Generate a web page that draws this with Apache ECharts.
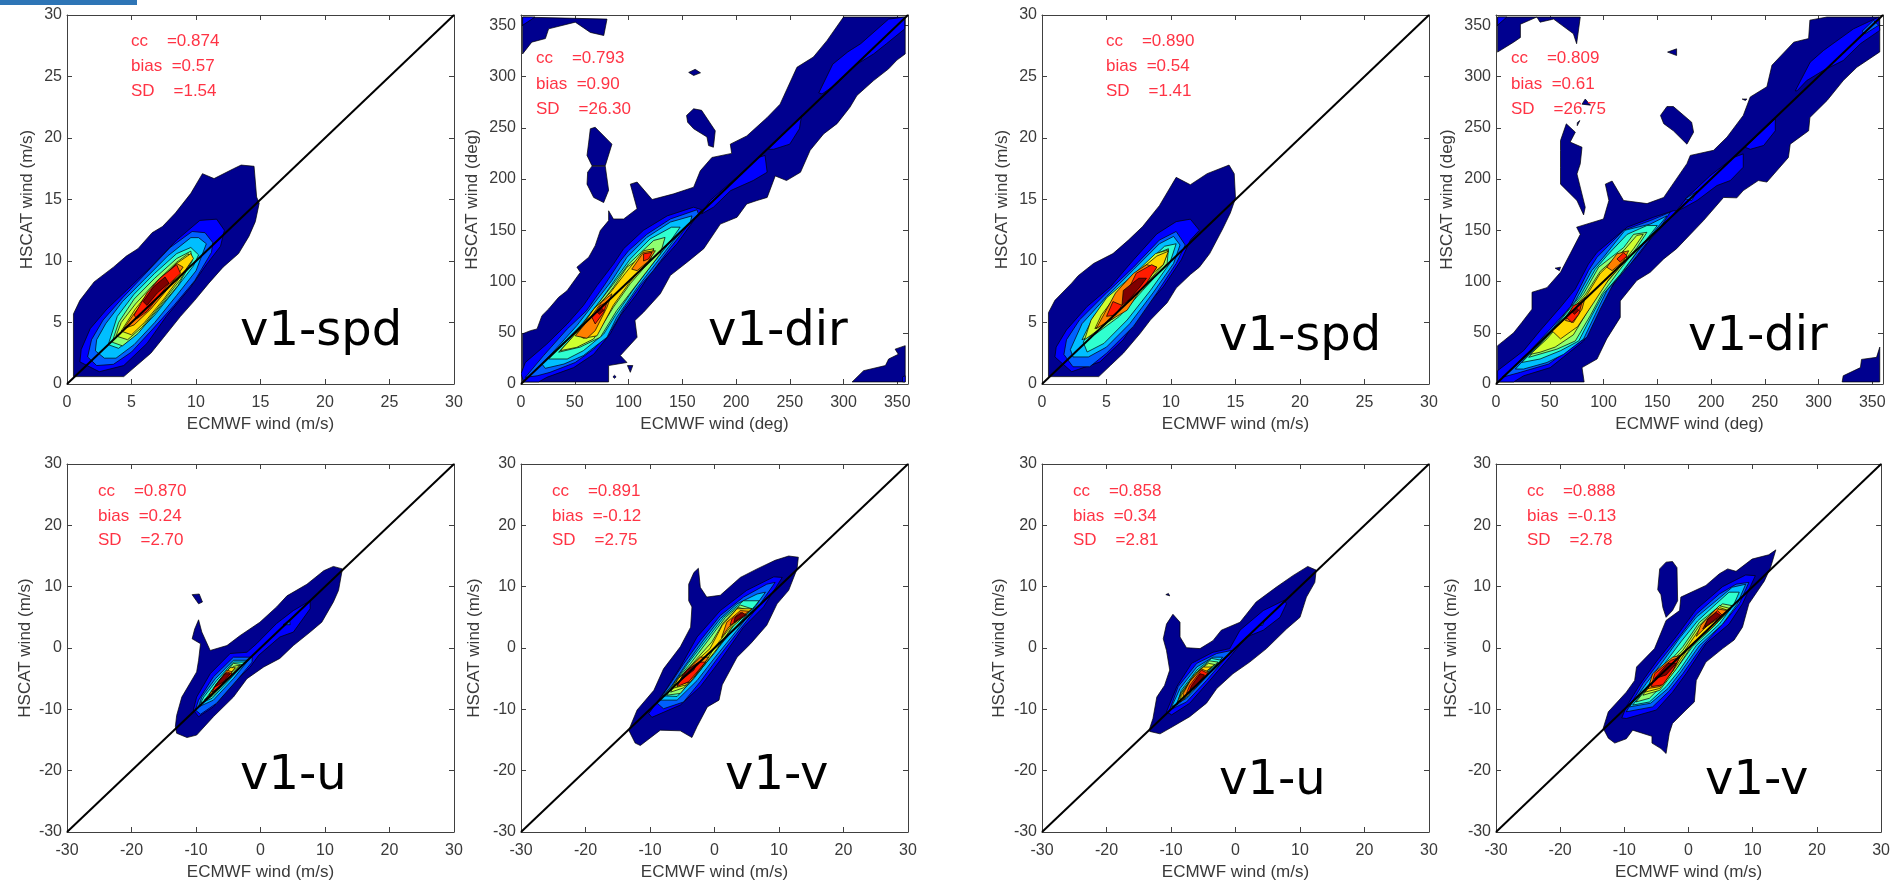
<!DOCTYPE html>
<html>
<head>
<meta charset="utf-8">
<style>html,body{margin:0;padding:0;background:#fff;overflow:hidden}#c{width:1893px;height:882px}</style>
<script src="https://cdn.jsdelivr.net/npm/echarts@6/dist/echarts.min.js"></script>
</head>
<body>
<div id="c"></div>
<script>
// Jet colour steps of the contour levels
const levelColors = ['#00008f','#0000ff','#0060ff','#00bfff','#30ffcf','#8fff70','#cfff30','#ffd800','#ff8000','#ff1c00','#800000'];

// Contours: [level, [x,y, x,y, ...]] in wind units
const spdA = [
[0,[0.5,0.6,0.5,5.7,1,6.8,2.1,8.3,3.6,9.5,4.6,10.4,5.5,11,6.6,12.3,7.4,12.8,8.4,13.9,9.6,15.5,10.5,17.1,11.4,16.7,12.9,17.5,13.5,17.8,14.5,17.7,14.7,15.2,14.9,14.7,14.6,13.2,14.1,12,13.3,10.6,12.1,9.5,11,8.2,9.9,6.8,8.8,5.5,7.5,3.8,6.5,2.5,4.4,0.6]],
[1,[2.5,1,1,1.8,1.1,2.8,1.8,4.5,3.1,6.1,4.6,7.6,6.5,9.5,8.5,11.7,10.3,13.3,11.6,13.4,12.2,12.5,11.9,11.2,10.8,9.7,9.6,7.9,7.7,5.5,6.2,3.3,4.4,1.5]],
[2,[1.6,2.2,2.3,1.5,3.6,1.6,5,2.6,6.5,4.3,8.3,6.4,9.9,8.4,11.2,10.7,11.3,11.5,10.7,12.3,9.7,12.4,8,11.1,6.2,9.1,4.3,7,2.8,5.2,1.9,3.6]],
[3,[2.2,2.7,2.9,2.1,3.8,2.1,5.2,3.2,6.8,5,8.5,7.2,10,9.2,10.8,11.4,10.2,11.9,9.6,11.9,7.8,10.4,6,8.5,4.3,6.7,3,4.9,2.3,3.6]],
[4,[3.2,3.2,4,2.9,5.2,3.9,6.8,5.6,8.4,7.7,9.8,9.6,10.2,10.5,9.6,11.1,8.5,10.6,6.8,9,5.2,7.3,3.9,5.5]],
[5,[3.5,3.4,4.3,3.1,5.5,4.1,7,6,8.6,8,9.7,10,9.6,10.8,8.5,10.2,6.8,8.6,5.2,6.9,4,5]],
[6,[3.8,3.9,4.7,3.6,5.8,4.6,7.3,6.5,8.8,8.5,9.6,10,9.4,10.6,8.5,9.9,6.8,8.2,5.3,6.5,4.2,5]],
[7,[4.2,4.3,5,4,6,5,7.5,6.9,9.2,9.3,9.8,10.2,9.6,10.6,8.5,9.8,7,8.3,5.3,6.1]],
[8,[4.4,4.5,5.2,4.8,6.5,6.1,7.7,7.6,9,9.5,8.5,9.8,7,8.2,5.2,5.7]],
[9,[5.2,5.6,5.4,5.3,6.2,5.9,7.7,7.9,8.8,9,8.5,9.7,7.2,8.6,6.2,7.4]],
[10,[5.9,6.7,6.2,6.4,7,7.4,7.9,8.2,7.6,8.7,6.7,7.9]]
];
const dirA = [
[0,[1.5,49,8.7,52,14.9,53.7,19.5,66.7,25.7,73.2,35,84.6,42.8,91,55.2,109,52,114,63,123.7,69,135,73.8,149.7,81.5,159.4,81.5,169,86,161,95.5,161,108,171,101.7,195,108,197,122,180,142,185.5,160.6,192,166.8,208,177.6,221,196,225,194.7,234,210,242,229,260,241,273,256.7,309,272,319,284.6,335,300,358,357.4,358,357.4,322,349.7,316,342,307.5,328,296,312.5,281.5,306,270,294,254,281.5,244,269,228,260,206.6,247,198.5,236.5,203,229,182,219.5,179,210,175.7,201,162.7,185.4,156,170,132,156,120,139,106,129.6,88,114,70,106,62,108,45.6,92.4,27.7,98.6,21,81.5,18,81.5,2,1.5,2]],
[0,[1.5,358,1.5,322,10,333.5,22.7,337,25.7,346.5,50.5,353,64.5,343,77,340,80,356]],
[1,[1.5,350,13,358,1.5,358]],
[0,[156,304,162,307,167,303.6,160.6,301]],
[0,[154,262,160.6,268.5,168,267,180.7,247,179,231,174.5,232.6,173,241,160.6,249,155,255.4]],
[0,[64.5,249,69,250.5,84.6,234,78.4,213,66,213,61.4,223,63,236]],
[0,[66,212.5,78.4,212.5,81.5,189,76.9,177,67.6,182,61.4,195,62,206.6]],
[0,[99,18,104,18,101.7,11.4]],
[0,[85.5,7,87,8.5,88.5,7,87,5.5]],
[0,[308,2,318.7,13,339,18,342,24.4,351,29,348,34,357.4,37.4,357.4,2]],
[1,[355,2,357.4,2,357.4,8,355,7]],
[1,[0,10,4,21,24,39,43,58.6,58,76.5,70.7,96,86,117,95.5,132,114,150,136,164,160.6,172.5,168,170,160.6,159.4,145,136.7,129.6,118.8,120,107,108,88,92.4,66.7,83,49,67.6,29,49,16,24,6.5,16.4,2,2.5,2]],
[1,[168,166,176,179,201,202,221,221,227,223,229,206.6,216,198.5,195,188.7,179,172.5]],
[1,[230,229,261,262,259,249,250,234,235,229]],
[1,[277,284,290,312,304,324,316,332,342,356,357,358,357,346.5,340,332,328,322,312.5,312,294,293,280,283]],
[2,[4,6.5,21,27.7,43,53.7,61,71.6,78.4,97.6,92.4,120,100,130,117,146,139,161,163.7,170,165,166,154,153,139,133,123,110.6,111,96,95.5,73,84.6,53.7,67.6,34,50.5,21,27,11.4,15,8]],
[3,[19.5,19.5,36.6,39,52,57,69,80,84.6,101,98.6,123.7,117,143,139,158,159,164,157.5,158,142,140,126.5,119,108,94,89,65,80,45.6,58,27.7,40,19.5,22.6,15.3]],
[4,[25.7,24.4,41,40.7,56.7,58.6,73.8,81,89,104,101.7,122,120,141.5,140,153,148,153,136,135,120,114,104.8,92.7,87.7,66.7,77,48.8,58,32.5,43,24.4]],
[5,[35,31,49,47,67.6,73,86,97.6,100,117,123.4,140,134,143,129.6,127,108,97.6,89,71.6,73.8,45.6,55,36]],
[6,[36.6,32.5,49,47,69,71.6,86,94.4,98.6,114,117,127,123.4,132,120,120,101.7,98,86,75,67.6,44,52,35.8]],
[7,[52,49,67.6,73,83,89,97,108,114,130,123.4,132,120,122,101.7,100,86,77,70.7,47,58,44.6]],
[8,[50.5,47,64.5,65,75,80,84.6,88,80,75,69,52,61.4,44.6]],
[8,[103,112,114,128.5,125,130,118.7,120,108,110.6]],
[9,[66,65,73.8,76.5,80,80,77,70,69,58.6]],
[9,[114,127,122,128.5,118.7,122,114,120]],
[10,[71,70,75,74,77,72,73,68]]
];
const uA = [
[0,[-13.2,-12.8,-13,-11,-12.2,-8,-9.9,-3.9,-9.6,-2,-9.3,0.7,-10.6,1.5,-10.2,3.1,-9.6,4.6,-9.1,2.6,-7.8,-0.4,-5.2,0.4,-3.2,2,-0.1,4.2,2.5,6.7,4.1,8.5,7.2,10.4,9.8,12.6,11.3,13.3,12.7,12.9,12.1,9.4,11.3,7.5,9.5,4.2,7.7,2.6,5.1,0.4,3,-1.7,0.5,-3.1,-2.1,-5,-4.2,-8,-7.3,-11.2,-9.9,-14.2,-11.4,-14.6,-13,-13.9]],
[0,[-10.6,8.7,-9.5,8.8,-9,7.5,-9.6,7.2]],
[1,[-10.4,-10.1,-9.6,-11.2,-7.3,-9.6,-4.2,-5.8,-1.6,-3.1,-0.3,-1.2,3,1.8,5.1,2.6,7.7,6.4,7.7,7.7,5.1,6.1,2.5,4,-0.6,0.7,-2.1,-0.7,-4.7,-0.9,-7.8,-4.2,-9.9,-8]],
[2,[-10.1,-10.1,-9.3,-10.8,-6.8,-9,-3.7,-5.3,-1.3,-2.3,-1.3,-1.5,-4.2,-1.5,-7.3,-4.7,-9.6,-8.5]],
[2,[3.5,3.8,4.5,4.6,4.6,3.8]],
[3,[-9.6,-9.6,-7.3,-8.5,-4.2,-5,-1.9,-2,-4.2,-2,-7,-5,-9.1,-8]],
[4,[-9.3,-9,-7.5,-8.2,-4.4,-4.7,-2.4,-2.3,-4.2,-2.3,-6.8,-5.3,-8.8,-8]],
[5,[-8.8,-8.8,-7.3,-7.7,-4.7,-4.7,-2.9,-2.7,-4.2,-2.5,-6.5,-5.5,-8.3,-8]],
[6,[-8.7,-8.6,-7.3,-7.2,-4.7,-4.2,-3.2,-2.8,-4.2,-3,-6.5,-5.8,-8,-8]],
[7,[-8.7,-8.5,-7.3,-7.4,-5.2,-4.7,-3.9,-3.2,-4.7,-3.2,-6.8,-5.8,-8,-7.7]],
[8,[-8,-8.2,-6.5,-6.6,-4.4,-3.9,-5.2,-3.6,-6.8,-5.8,-7.8,-7.4]],
[9,[-7.5,-7.2,-6.2,-6.3,-4.4,-4.2,-5.2,-3.9,-6.8,-5.8]],
[10,[-7,-6.3,-5.7,-5.5,-4.7,-4.2,-5.5,-4.2,-6.5,-5.5]]
];
const vA = [
[0,[-13.3,-13.4,-12,-10.1,-9.4,-6.9,-7.9,-3.4,-5.3,0.2,-3.7,3.4,-3.5,6.7,-4,7.7,-4,10.4,-3.2,12.3,-2.5,13,-2.2,9.9,-1.2,8.3,0.9,8.6,4,11.5,6.6,12.9,9.4,14.3,11.5,15,13,14.8,12.8,12.9,11.5,9.4,9.7,7.2,8.1,3.7,5.6,0.7,3.5,-1.5,1.2,-6,0.7,-8.5,-1.1,-9.6,-2.7,-12.8,-3.5,-14.6,-5.3,-13.5,-8.4,-13.4,-11.5,-15.9,-12.3,-15.5]],
[1,[-10.2,-10.7,-9.7,-11.3,-5.3,-9.3,-2.2,-6.3,0.9,-2,4.5,3.4,7.6,6.7,10.5,11.5,9.2,11.6,5,9.4,0.9,6.1,-2.7,1.8,-5.3,-3.1,-7.4,-6.6]],
[2,[-8.9,-9,-7.9,-9.9,-4.8,-8.8,-2.2,-5.5,0.6,-1.5,4,3.1,7.1,7.2,9.4,10.7,8.1,10.4,4.5,8.3,0.9,5.3,-2.2,1.2,-4.8,-2.6,-6.8,-5.8]],
[3,[-8.4,-8.5,-5.8,-8.5,-2.7,-5.3,0.1,-1.5,3.5,2.9,6.6,7.2,7.9,9.1,6.6,8.8,3.5,7.2,0.9,4.8,-1.9,1,-4.5,-2.8,-6.6,-6.1]],
[4,[-8,-7.8,-5.8,-7.9,-3.2,-5,-0.4,-1.2,3,3.1,6.3,6.9,6.9,7.7,4.5,7.7,1.4,5,-1.4,1.2,-4.3,-2.8,-6.3,-5.8]],
[5,[-7.4,-7.7,-5.3,-7.4,-2.7,-4.2,0.1,-0.7,3,3.7,5.8,6.4,4,7,1.7,5,-0.6,1.8,-3.7,-2.5,-6.1,-5.5]],
[6,[-6.8,-7.2,-4.8,-6.5,-2.2,-3.6,0.4,-0.1,2.7,3.4,5.6,6.1,3.7,6.6,1.4,4.2,-0.4,1,-3.2,-2.3,-5.8,-5.3]],
[7,[-6.6,-6.6,-4.3,-6,-1.9,-3.1,0.1,0.2,2.7,3.7,5.8,6.4,3.5,6.4,1.2,3.7,-0.7,-0.1,-3.2,-2.5,-5.6,-5]],
[8,[-5.8,-6.1,-3.7,-5.5,-0.9,-1.5,-2.2,-1.5,-4.8,-4.2]],
[8,[1.1,1.7,2.2,3.4,5.3,6,4,6.1,1.9,4.2]],
[9,[-5.8,-6.3,-4,-5.5,-1.4,-2.3,-2.5,-2.3,-4.8,-4.2]],
[9,[2.4,3.7,5,5.4,4,5.8,2.7,4.7]],
[10,[-5.3,-5.3,-3.2,-3.6,-2.7,-2.5,-4.3,-3.6]],
[10,[3,4.2,4.8,5.4,4.3,5.8,3.2,5]]
];
const spdB = [
[0,[0.5,0.6,0.5,5.8,1,6.8,2.3,8.2,2.8,8.8,4,9.8,5.5,10.6,6.7,11.7,7.8,12.8,9.1,14.5,10.4,16.8,11.5,16.2,12.8,17.1,14.5,17.8,14.9,17.1,15,15.1,14.6,13.9,14,12.6,13,10.6,12.2,9.5,11.5,8.9,10.4,7.8,9.7,6.6,8.4,5.2,7.6,4.1,6.3,2.5,5.3,1.5,4.4,0.6]],
[1,[2.3,1,1,2.2,1.1,3,1.9,4.4,3.5,6.3,5.3,7.9,7.1,10.1,8.9,12.2,10.4,13.2,11.5,13.4,12.2,12.5,11.5,11.7,10.8,10.1,9.4,7.9,7.8,6,6.3,3.6,4.5,1.8]],
[2,[1.7,2.4,2.4,1.4,3.7,1.4,5,2.5,7.1,4.7,8.9,7.4,10.4,9.8,11.1,11.3,10.4,12.4,9.1,11.7,7.1,9.5,5,7.4,2.9,5.2,1.9,3.6]],
[3,[2.2,2.8,2.4,2.2,3.6,2.2,5,3,6.8,4.9,8.6,7.4,10.2,9.8,10.7,11.3,10.2,12,9.1,11.4,7.1,9.3,5,7.1,3.1,4.9]],
[4,[3.2,3.4,3.5,2.6,4.8,3.3,6.6,5.2,8.4,7.6,9.9,9.8,10.4,11.4,9.5,11.2,7.8,9.5,5.8,7.4,4,5.2]],
[5,[3.1,3.6,4.2,4.1,6,5.5,7.8,7.6,9.7,9.8,9.8,11,8.9,10.6,7.1,8.7,5.3,7.1,4,5.5]],
[6,[3.3,3.6,4.5,4.5,5.9,5.7,7.6,7.6,9.4,9.7,9.8,10.9,8.8,10.6,6.9,8.7,5,7,3.8,5.2]],
[7,[4.1,4.5,5.5,5.3,7.1,7.3,8.6,9,9.4,9.7,9.8,10.8,8.9,10.4,7.4,9.1,5.6,7,4.6,5.6]],
[8,[4.2,4.5,6.6,6,7.8,7.9,8.9,9.5,8.1,9.7,7.1,9,5.7,7.4]],
[9,[5,5.5,5.5,6.7,6.2,6.4,5.7,5.6]],
[9,[6.3,6.8,7.3,9,8.5,9.7,8.9,9.5,8.1,8.2,6.9,6.8]],
[10,[6.2,6.4,6.3,7.6,7.5,8.6,8.1,8.6,7.6,7.9,6.7,6.8]]
];
const dirB = [
[0,[1.5,37.4,7,42,16.4,50,24,60,33.5,73,33.5,89.5,47.4,94,60,109,69,127,78.4,146,75,153,100,161,105,179,101.7,195,108,198,118.7,179,140.5,176,156,182,177.6,215,180.7,223,202.4,228,215,241,230,262,236.5,280,252,290,256.7,311,277,333.5,290.8,337,292,355,307.8,358,357,358,357,324,335.7,309,323,296,308,276.6,292,260,290.8,247,273.7,234,272,221,252,197,244,198.5,230,188.7,224,181.6,211.7,182,193,159.4,168,132,156,122,143.5,109,131,101,115.6,81,115.6,65,103,44,94,24.4,80,16,82,2,1.5,2]],
[0,[1.5,358,1.5,323.8,16.4,333.5,22.7,338,22.7,351,38,358,41,353,53.6,356,72,341.7,75,332,78.4,358]],
[1,[1.5,350,10,358,1.5,358]],
[0,[159.6,323.8,168,327,168,320.5]],
[0,[80,273,83,278,88,272]],
[0,[75.6,255,78,257,75.6,252]],
[0,[229,278,233.4,278,232,276.6]],
[0,[153,262,159,270.7,165,270.7,182,255.4,183.8,245.7,177.6,234,165,247,156,254]],
[0,[60,237.5,65.4,253.8,73.8,245.7,69,236,80,231,78.4,214.8,75.3,205,83,172.5,81.5,165,75.3,179,60,195,60,211.5,60,228]],
[0,[55,113,60,114,59,110.6]],
[0,[322,2,323,8,339,16,340,24,354,26,357,36,357,2]],
[1,[1.5,13,25.7,32.5,41,52,60,75,73.8,92.7,86,117,94,128.5,122,153,146.6,162.7,165,169,168,169,159,158,145,143,131,123.7,118.7,110.6,103,88,94,68,81.5,42,66,29,50.5,16,25.7,8,16.4,2,1.5,2]],
[1,[168,169,177.6,182,199,203,221,221,230,224.5,230,211.5,218,198.5,205.5,193.6,187,179,173,171]],
[1,[231.6,231,259.8,258.7,259.8,247,249,232.7,236.5,229]],
[1,[278.4,286,292.3,314,304.7,325.4,332.6,346.5,356,358,357,345,339,332,323,315.6,304.7,306,289,296,280,286]],
[2,[340.4,344,351,354.7,356,350,343.5,341.7]],
[2,[176,180.6,187,188,182,179]],
[2,[5.6,6.5,32,32.5,50.5,53.7,69,75,86,110.6,94,123.7,118.7,150,143.5,159.4,162,167.6,153,153,140.4,138,125,117,109,97.6,97,73,84.6,45.6,66,32.5,49,19.5,22.6,11.4]],
[3,[18,14.6,35,34,53.6,55,73.8,81,89,110.6,100,123.7,120,150,143.5,156,159,164,146.6,148,131,128.5,118.7,110.6,103,91,92.4,68,81.5,44,63,29,47.4,21,25.7,14.6]],
[4,[24,21,41,39,60,62,78.4,86,92.4,112,103,125,122,146,140.4,154.6,150,154.6,134,133,115.6,107,100,88,89,66.7,77,42,60,32.5,41,24.4]],
[5,[30.4,26,44,42,63,63.5,81.5,88,95.5,114,118.7,133,128,146,140.4,148,131,133,115.6,112,98.6,88,87.7,66.7,73.8,42,56.7,34]],
[6,[32,29,47.4,44,66,66.7,83,87,97,110,118.7,130,131,145,137,146,128,132,112.5,110.6,97,92,84.6,70,72,48,55,36,41,31]],
[7,[52,52,69,68,84,86,97,108,118.7,130,122,122,105,102,90,78,76,56,60,44]],
[8,[64.5,62,72,75,83,84.6,80,73,72,60]],
[8,[103,114,112.5,127,123.4,130,118.7,120,108,110.6]],
[9,[65.4,65,72,76.5,80,80,77,68,70.7,60]],
[9,[112.5,122,118.7,128,122,125,115.6,119]],
[10,[71,70,75,74,77,72,73,68]]
];
const uB = [
[0,[-13.3,-13.1,-12.8,-11.5,-12.2,-8,-11,-6.1,-10.2,-3.6,-10.7,-0.4,-11.2,1.5,-10.7,3.9,-9.7,5.5,-8.6,4.2,-8.6,1.8,-7.6,0.05,-5.5,-0.1,-3.5,1.2,-2.2,2.9,0.7,4.2,3.2,7.5,6.3,9.9,8.9,11.8,11.2,13.3,12.5,12.7,12.3,10.7,11,8.3,10,5,7.9,3.1,4.8,-0.1,2.2,-2.3,-0.4,-4.2,-2.9,-6.6,-4.5,-9,-7.1,-11.2,-9.7,-12.8,-11.7,-14,-13.3,-13.6]],
[0,[-10.8,8.7,-10.4,8.9,-10.2,8.5]],
[1,[-10.7,-10.4,-9.9,-10.9,-7.1,-9,-4,-5.3,-0.9,-1.5,1.7,1.8,4.3,2.9,6.9,5,7.9,7.2,7.6,7.8,4.3,6.1,0.7,2.9,-0.9,-0.1,-3.5,-0.7,-6.8,-2.5,-9.1,-6.3]],
[2,[-10.2,-10.1,-7.6,-8.8,-4.5,-5.3,-1.4,-1.5,-0.6,-0.4,-2.9,-0.9,-6,-2.5,-8.9,-6.3]],
[2,[3.7,3.7,4.5,4.5,4.2,3.7]],
[3,[-9.9,-9.6,-7.6,-8.2,-4.5,-4.7,-2,-1.5,-3.5,-1.5,-6,-3.1,-8.6,-6.6]],
[4,[-9.1,-9.3,-7.6,-8,-4.8,-4.4,-2.2,-2,-3.7,-1.7,-6,-3.6,-8.4,-6.9]],
[5,[-9.1,-9,-7.3,-7.4,-4.5,-3.9,-2.7,-2.3,-4,-2.1,-6,-3.9,-8.4,-7.2]],
[6,[-8.9,-8.8,-7.3,-7.2,-4.8,-3.9,-3.2,-2.7,-4.2,-2.5,-6.3,-4.2,-8.4,-7.4]],
[7,[-8.6,-8.8,-7.3,-7.7,-5,-4.2,-3.7,-3.1,-5,-3.1,-6.8,-5,-8.4,-7.7]],
[8,[-8.1,-8.2,-6.8,-6.9,-4.2,-3.9,-5.3,-3.4,-7.1,-5.5,-8.1,-7.4]],
[9,[-7.6,-7.4,-6.3,-6.6,-4.2,-4.2,-5.3,-3.6,-7.1,-6.1]],
[10,[-7.1,-6.9,-6,-6.1,-4.8,-4.4,-5.5,-4.2,-6.8,-6.1]]
];
const vB = [
[0,[-13.3,-13.1,-12.5,-10.4,-9.7,-7.2,-8.4,-5.3,-8.1,-3.1,-5.3,-0.1,-3.5,4.5,-1.4,6.1,-1.2,8.3,2.7,10.2,4.8,12.1,6.1,12.9,7.4,12.5,9.9,14.5,12.5,15.2,13.6,16,12.8,13.2,11.8,10.9,9.4,7.2,8.4,3.4,7.1,1.3,5.3,-0.1,2.7,-2.3,1.2,-5.3,0.9,-8.8,-0.4,-10.1,-2.5,-12.3,-3,-13.9,-3.5,-17.2,-4.3,-16.4,-5.7,-15.5,-5.7,-14.4,-8.7,-13.4,-9.7,-14.8,-11.5,-15.5,-12.5,-14.7]],
[0,[-4.5,12.9,-3.5,14,-2.5,14.1,-1.8,13.1,-1.7,7.7,-2.5,6.1,-3.5,5,-4,6.6,-4.3,8.7,-4.8,9.5]],
[1,[-10.4,-11.4,-9.7,-11.5,-5,-10.1,-2.5,-7.2,-0.4,-4.2,2.7,0.7,6.3,3.9,8.4,7.2,10.4,11.8,8.9,11.9,5.3,10,1.2,6.3,-1.9,1.9,-5,-2.2,-7.6,-6,-9.7,-9.6]],
[2,[-9.7,-10.4,-5.6,-9.6,-3,-7,-0.9,-4.2,2.2,0.4,5.8,4.5,7.9,7.2,9.4,10.7,7.4,10.4,4.8,8.8,1.2,5.5,-1.4,1.9,-4.5,-2.2,-7.1,-5.8]],
[3,[-9.2,-9.6,-5.9,-9,-3.2,-6.6,-1.2,-3.9,1.7,0.4,5.3,3.9,7.6,7.2,8.9,10.4,6.8,9.9,4.3,7.7,1.2,5,-1.4,1.6,-4,-2.2,-6.6,-5.8]],
[4,[-8.7,-9.3,-6.1,-8.8,-3.5,-6.3,-1.4,-3.6,1.2,0.4,4.8,3.9,7.1,7.2,7.9,9.1,6.3,9.1,4.3,7.2,1.4,4.4,-1.2,1,-3.7,-2.5,-6.3,-6.1]],
[5,[-8.2,-8.8,-6.1,-8.2,-3.8,-5.8,-1.7,-3.1,0.6,0.2,4.3,3.9,6.8,6.9,5.3,7.2,1.7,4.2,-0.9,0.2,-3.5,-2.8,-6.1,-6.1]],
[6,[-7.1,-7.7,-4.5,-6.9,-1.9,-3.4,0.4,0.2,4.3,4.2,6.6,6.4,4.8,6.9,1.7,3.7,-0.9,-0.4,-3.5,-3.1,-6.3,-6.3]],
[7,[-6.8,-7.2,-4.5,-6.6,-2.2,-3.4,0.1,0.2,3.8,3.4,6.3,6.1,4.8,6.6,1.7,3.1,-0.9,-0.9,-3.5,-3.3,-6,-6.3]],
[8,[-6.3,-6.6,-4.5,-6.3,-2.4,-3.6,-1.2,-1.2,-2.5,-1.5,-5.6,-4.2]],
[8,[1.2,1.9,3,3.7,6.1,6.1,4.3,6.4,1.9,3.7]],
[9,[-5.8,-6.3,-4,-6,-2.4,-3.6,-1.4,-1.5,-2.7,-2,-5.3,-4.2]],
[9,[2.2,3.1,5.3,5.3,4.5,6.1,3,4.7]],
[10,[-5.3,-5,-3.5,-4.4,-1.9,-2.5,-3.2,-2.5]],
[10,[2.5,3.4,5,5.3,4.3,5.8,3,4.7]]
];

// 1:1 reference lines
const diagSpd = [[0,0],[30,30]];
const diagDir = [[0,0],[360,360]];
const diagComp = [[-30,-30],[30,30]];

// Axis settings
const axisSpd = {min:0,max:30,interval:5};
const axisDir = {min:0,max:360,interval:50};
const axisComp = {min:-30,max:30,interval:10};

// Panel text
const panelNames = ['v1-spd','v1-dir','v1-u','v1-v','v1-spd','v1-dir','v1-u','v1-v'];
const ccValues = ['0.874','0.793','0.870','0.891','0.890','0.809','0.858','0.888'];
const biasValues = ['0.57','0.90','0.24','-0.12','0.54','0.61','0.34','-0.13'];
const sdValues = ['1.54','26.30','2.70','2.75','1.41','26.75','2.81','2.78'];
const xNames = ['ECMWF wind (m/s)','ECMWF wind (deg)','ECMWF wind (m/s)','ECMWF wind (m/s)','ECMWF wind (m/s)','ECMWF wind (deg)','ECMWF wind (m/s)','ECMWF wind (m/s)'];
const yNames = ['HSCAT wind (m/s)','HSCAT wind (deg)','HSCAT wind (m/s)','HSCAT wind (m/s)','HSCAT wind (m/s)','HSCAT wind (deg)','HSCAT wind (m/s)','HSCAT wind (m/s)'];

// Layout: plot box, y title gap, statistics text origin, panel label origin
const layout = [
 {l:67,  t:15, c:spdA, d:diagSpd, a:axisSpd, g:31, sx:131, sy:[50,75,100],   nx:240, ny:357},
 {l:521, t:15, c:dirA, d:diagDir, a:axisDir, g:40, sx:536, sy:[67,93,118],   nx:708, ny:357},
 {l:67,  t:464,c:uA,   d:diagComp,a:axisComp,g:33, sx:98,  sy:[500,525,549], nx:240, ny:801},
 {l:521, t:464,c:vA,   d:diagComp,a:axisComp,g:38, sx:552, sy:[500,525,549], nx:725, ny:801},
 {l:1042,t:15, c:spdB, d:diagSpd, a:axisSpd, g:31, sx:1106,sy:[50,75,100],   nx:1219,ny:362},
 {l:1496,t:15, c:dirB, d:diagDir, a:axisDir, g:40, sx:1511,sy:[67,93,118],   nx:1688,ny:362},
 {l:1042,t:464,c:uB,   d:diagComp,a:axisComp,g:34, sx:1073,sy:[500,525,549], nx:1219,ny:806},
 {l:1496,t:464,c:vB,   d:diagComp,a:axisComp,g:36, sx:1527,sy:[500,525,549], nx:1705,ny:806}
];
const boxW = 387, boxH = 369;
const FONT = '"Liberation Sans", Arial, sans-serif';
const inkColor = '#3a3a3a', statColor = '#ff3344';

const grids=[], xAxes=[], yAxes=[], series=[], graphics=[];
graphics.push({type:'rect',shape:{x:0,y:0,width:137,height:5},style:{fill:'#2e75b6'}});

layout.forEach((p,i)=>{
  grids.push({left:p.l,top:p.t,width:boxW,height:boxH,containLabel:false,show:false});
  const line={lineStyle:{color:'#404040',width:1}};
  const tick={inside:true,length:5,lineStyle:{color:'#404040',width:1}};
  const lab={color:inkColor,fontFamily:FONT,fontSize:16,showMaxLabel:p.a===axisDir?false:true};
  xAxes.push({type:'value',gridIndex:i,min:p.a.min,max:p.a.max,interval:p.a.interval,splitLine:{show:false},
    axisLine:{show:true,onZero:false,...line},axisTick:{show:true,...tick},axisLabel:{...lab,margin:11},
    name:xNames[i],nameLocation:'middle',nameGap:32,
    nameTextStyle:{color:inkColor,fontFamily:FONT,fontSize:17}});
  xAxes.push({type:'value',gridIndex:i,position:'top',min:p.a.min,max:p.a.max,interval:p.a.interval,splitLine:{show:false},
    axisLine:{show:true,onZero:false,...line},axisTick:{show:true,...tick},axisLabel:{show:false}});
  yAxes.push({type:'value',gridIndex:i,min:p.a.min,max:p.a.max,interval:p.a.interval,splitLine:{show:false},
    axisLine:{show:true,onZero:false,...line},axisTick:{show:true,...tick},axisLabel:{...lab,margin:5},
    name:yNames[i],nameLocation:'middle',nameGap:p.g,nameRotate:90,
    nameTextStyle:{color:inkColor,fontFamily:FONT,fontSize:17}});
  yAxes.push({type:'value',gridIndex:i,position:'right',min:p.a.min,max:p.a.max,interval:p.a.interval,splitLine:{show:false},
    axisLine:{show:true,onZero:false,...line},axisTick:{show:true,...tick},axisLabel:{show:false}});

  const contours=p.c;
  series.push({
    type:'custom',coordinateSystem:'cartesian2d',xAxisIndex:2*i,yAxisIndex:2*i,clip:true,silent:true,
    encode:{x:0,y:1},
    data:contours.map((c,k)=>[c[1][0],c[1][1],k]),
    renderItem:(params,api)=>{
      const c=contours[api.value(2)], f=c[1], pts=[];
      for(let j=0;j<f.length;j+=2) pts.push(api.coord([f[j],f[j+1]]));
      return {type:'polygon',shape:{points:pts},style:{fill:levelColors[c[0]],stroke:'#000',lineWidth:0.7}};
    }
  });
  series.push({type:'line',xAxisIndex:2*i,yAxisIndex:2*i,data:p.d,showSymbol:false,silent:true,
    lineStyle:{color:'#000',width:2},z:5});

  const stats=['cc    ='+ccValues[i],'bias  ='+biasValues[i],'SD    ='+sdValues[i]];
  stats.forEach((s,k)=>graphics.push({type:'text',x:p.sx,y:p.sy[k],z:20,
    style:{text:s,fill:statColor,font:'17px '+FONT,textBaseline:'bottom',textVerticalAlign:'bottom'}}));
  graphics.push({type:'text',x:p.nx,y:p.ny,z:20,
    style:{text:panelNames[i],fill:'#000',font:'48px "DejaVu Sans", sans-serif',textBaseline:'bottom',textVerticalAlign:'bottom'}});
});

const chart=echarts.init(document.getElementById('c'),null,{renderer:'canvas',width:1893,height:882});
chart.setOption({animation:false,backgroundColor:'#fff',tooltip:{show:false},
  grid:grids,xAxis:xAxes,yAxis:yAxes,series:series,graphic:{elements:graphics}});
</script>
</body>
</html>
